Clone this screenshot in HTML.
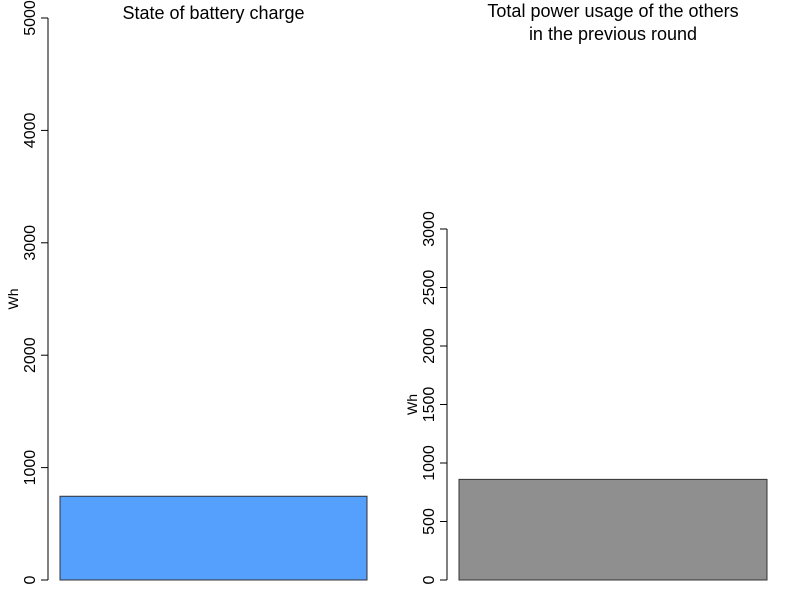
<!DOCTYPE html>
<html><head><meta charset="utf-8"><style>
body{margin:0;background:#fff}
svg text{font-family:"Liberation Sans",sans-serif;fill:#000}
</style></head><body>
<svg id="c" width="800" height="600" xmlns="http://www.w3.org/2000/svg"></svg>
<script>
const leftTicks=[0,1000,2000,3000,4000,5000];
const leftValues=[745];
const rightTicks=[0,500,1000,1500,2000,2500,3000];
const rightValues=[860];
const titles=[["State of battery charge"],["Total power usage of the others","in the previous round"]];
const NS="http://www.w3.org/2000/svg";
const svg=document.getElementById('c');
function mk(t,a,p){const e=document.createElementNS(NS,t);for(const k in a)e.setAttribute(k,a[k]);(p||svg).appendChild(e);return e;}
function panel(name,ticks,values,color,axX,y0,yTop,x0,x1,title,titleY){
  const g=mk('g',{});
  
  
  const max=ticks[ticks.length-1];
  const y=v=>y0-(v/max)*(y0-yTop);
  values.forEach(v=>{
    const r=mk('rect',{x:x0,y:y(v),width:x1-x0,height:y0-y(v),fill:color,stroke:'#333','stroke-width':1},g);
    
    
  });
  const ax=mk('line',{x1:axX,x2:axX,y1:y(0),y2:y(max),stroke:'#000'},g);
  
  
  ticks.forEach(t=>{
    mk('line',{x1:axX-7,x2:axX,y1:y(t),y2:y(t),stroke:'#000'},g);
    const tx=mk('text',{x:0,y:0,'font-size':16,'text-anchor':'middle',transform:`translate(${axX-13},${y(t)}) rotate(-90)`},g);
    tx.textContent=t;
    
    
  });
  const yl=mk('text',{x:0,y:0,'font-size':14,'text-anchor':'middle',transform:`translate(${axX-30},${(y(0)+y(max))/2}) rotate(-90)`},g);
  yl.textContent='Wh';
  
  
  title.forEach((s,i)=>{
    const tt=mk('text',{x:(x0+x1)/2,y:titleY+i*23,'font-size':18,'text-anchor':'middle'},g);
    tt.textContent=s;
    
    
  });
}
panel('battery-panel',leftTicks,leftValues,'#559ffd',48,580,18,60,367,titles[0],19);
panel('others-panel',rightTicks,rightValues,'#8f8f8f',447,580,229,459,767,titles[1],17);
</script>
</body></html>
